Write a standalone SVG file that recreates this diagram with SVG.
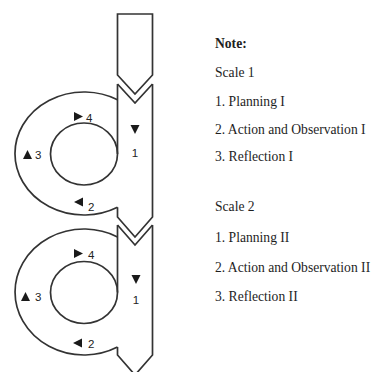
<svg xmlns="http://www.w3.org/2000/svg" width="375" height="372" viewBox="0 0 375 372">
<style>
.ln{fill:none;stroke:#333;stroke-width:1.7;stroke-linejoin:miter}
.tri{fill:#1a1a1a}
.num{font-family:"Liberation Sans",Arial,sans-serif;font-size:11.5px;fill:#222}
.note{font-family:"Liberation Serif","Times New Roman",serif;font-size:13.6px;fill:#1e1e1e}
</style>
<rect width="375" height="372" fill="#fff"/>
<g id="connectors">
<path class="ln" d="M117.5,14 H152.5 V75 L135,94 L117.5,75 Z"/>
</g>
<g id="cycle1">
<path class="ln" d="M117.5,84 L135,103 L152.5,84"/>
<path class="ln" d="M117.5,84 V154"/>
<path class="ln" d="M152.5,84 V217 L135,237 L117.5,217 V207.25"/>
<path class="ln" d="M117.5,99.75 A69,61.5 0 1 0 117.5,207.25"/>
<ellipse class="ln" cx="84" cy="154" rx="33.5" ry="31"/>
<polygon class="tri" points="130.5,125 139.5,125 135,134"/>
<text class="num" x="135" y="157" text-anchor="middle">1</text>
<polygon class="tri" points="74,202 83,197.5 83,206.5"/>
<text class="num" x="88" y="211">2</text>
<polygon class="tri" points="23,159 27.5,150 32,159"/>
<text class="num" x="35" y="159">3</text>
<polygon class="tri" points="74,112 83,116.5 74,121"/>
<text class="num" x="86" y="122">4</text>
</g>
<g id="cycle2">
<path class="ln" d="M117.5,225 L135,245 L152.5,225"/>
<path class="ln" d="M117.5,225 V292.5"/>
<path class="ln" d="M152.5,225 V355 L135,375 L117.5,355 V347.1"/>
<path class="ln" d="M117.5,236.9 A69,63 0 1 0 117.5,347.1"/>
<ellipse class="ln" cx="84" cy="292.5" rx="33.5" ry="31"/>
<polygon class="tri" points="131.5,275 140.5,275 136,284"/>
<text class="num" x="136" y="304" text-anchor="middle">1</text>
<polygon class="tri" points="73,343 82,338.5 82,347.5"/>
<text class="num" x="88" y="348">2</text>
<polygon class="tri" points="21,301 25.5,292 30,301"/>
<text class="num" x="35" y="301">3</text>
<polygon class="tri" points="74,249 83,253.5 74,258"/>
<text class="num" x="88" y="259">4</text>
</g>
<g id="legend">
<text class="note" x="215" y="48" font-weight="bold">Note:</text>
<text class="note" x="215" y="77">Scale 1</text>
<text class="note" x="215" y="106">1. Planning I</text>
<text class="note" x="215" y="134">2. Action and Observation I</text>
<text class="note" x="215" y="161">3. Reflection I</text>
<text class="note" x="215" y="211">Scale 2</text>
<text class="note" x="215" y="242">1. Planning II</text>
<text class="note" x="215" y="272">2. Action and Observation II</text>
<text class="note" x="215" y="301">3. Reflection II</text>
</g>
</svg>
